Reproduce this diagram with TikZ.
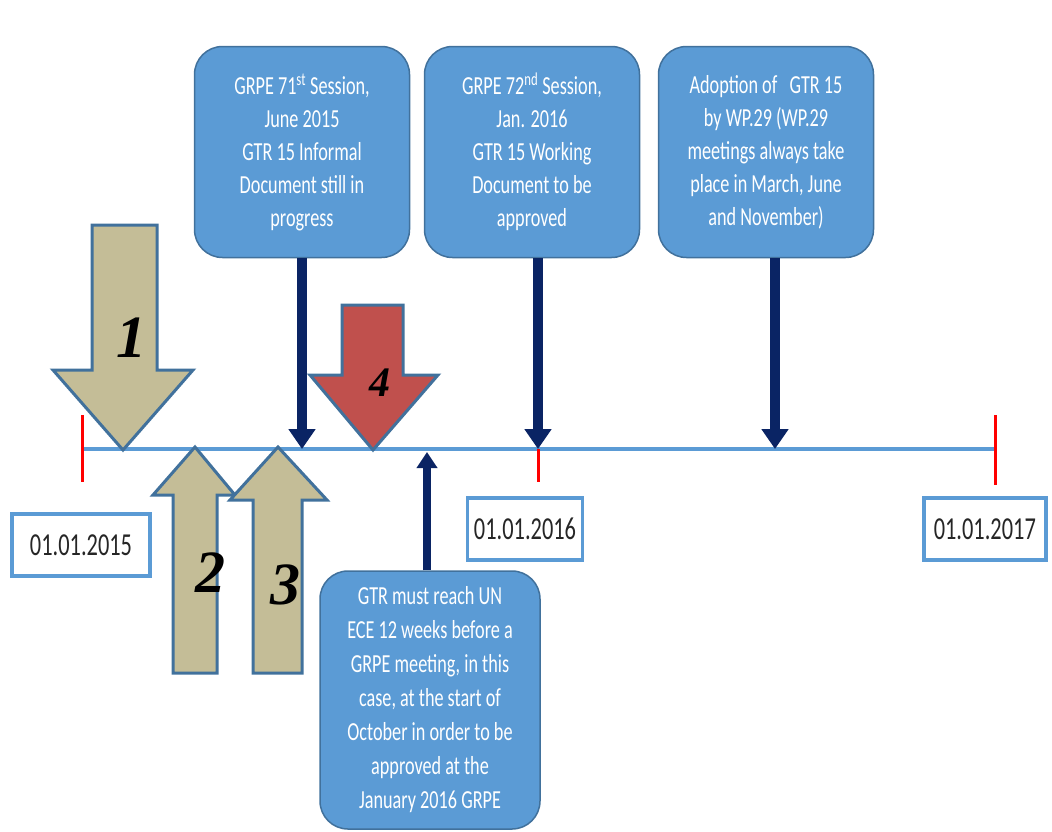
\documentclass[tikz,border=0pt]{standalone}
\usepackage{fontspec}
\setmainfont{Carlito}[FakeStretch=0.7]
\newfontfamily\numfont{Liberation Serif}
\usetikzlibrary{arrows.meta,positioning}
\definecolor{boxblue}{RGB}{91,155,213}
\definecolor{boxedge}{RGB}{65,113,156}
\definecolor{navy}{RGB}{10,36,100}
\definecolor{sand}{RGB}{196,189,151}
\definecolor{brick}{RGB}{192,80,77}
\tikzstyle{pointer} = [navy, line width=10pt, -{Triangle[width=26pt,length=20pt]}]
\tikzstyle{upointer} = [navy, line width=8pt, -{Triangle[width=20pt,length=16pt]}]
\tikzset{
 b/.style
  = {rectangle, draw=boxedge, fill=boxblue, line width=1.5pt, rounded corners=28pt,
     text=white, align=center, font=\fontsize{26}{33}\selectfont,
     minimum width=215pt, minimum height=211pt, inner sep=0pt},
 d/.style
  = {rectangle, draw=boxblue, line width=3.5pt, fill=white, text=black!85,
     font=\fontsize{32}{34}\selectfont, minimum height=62pt, inner sep=0pt},
 ba/.style
  = {draw=boxedge, line width=3pt, line join=miter, fill=sand},
 num/.style
  = {font=\numfont\bfseries\itshape\fontsize{60}{60}\selectfont},
 tk/.style
  = {red, line width=3pt},
}

\begin{document}
\begin{tikzpicture}[x=1pt, y=-1pt]
\useasboundingbox (0,0) rectangle (1052,831);

% Time line
\coordinate (t0) at (82,449);
\coordinate (t1) at (538,449);
\coordinate (t2) at (995,449);
\coordinate (m3) at (775,449);
\coordinate (m4) at (427,449);
\draw[boxblue, line width=4pt] (t0) -- (t2);
\draw[tk] ([yshift=34pt]t0) -- ([yshift=-33pt]t0);
\draw[tk] (t1) -- ([yshift=-33pt]t1);
\draw[tk] ([yshift=34pt]t2) -- ([yshift=-36pt]t2);

% Dates
\node[d, minimum width=138pt] (y15) at (81,545) {01.01.2015};
\node[d, minimum width=115pt] (y16) at (525,529) {01.01.2016};
\node[d, anchor=west, inner xsep=10pt] (y17) at (922,529) {01.01.2017};

% Block arrows
\filldraw[ba] (92,225) -- (157,225) -- (157,370) -- (193,370) -- (123,450)
  -- (53,370) -- (92,370) -- cycle;
\filldraw[ba] (173,673) -- (217,673) -- (217,495) -- (235,495) -- (195,447)
  -- (153,495) -- (173,495) -- cycle;
\filldraw[ba] (253,673) -- (302,673) -- (302,500) -- (327,500) -- (278,447)
  -- (230,500) -- (253,500) -- cycle;
\filldraw[ba, fill=brick] (342,305) -- (403,305) -- (403,375) -- (438,375) -- (373,450)
  -- (310,375) -- (342,375) -- cycle;
\node[num] (n1) at (131,338) {1};
\node[num] (n2) at (210,573) {2};
\node[num] (n3) at (285,585) {3};
\node[num, font=\numfont\bfseries\itshape\fontsize{42}{42}\selectfont] (n4) at (380,383) {4};

% Sessions
\node[b] (g71) at (302,152) {GRPE 71\textsuperscript{st} Session,\\June 2015\\GTR 15 Informal\\Document still in\\progress};
\node[b] (g72) at (532,152) {GRPE 72\textsuperscript{nd} Session,\\Jan. 2016\\GTR 15 Working\\Document to be\\approved};
\node[b] (wp) at (766,152) {Adoption of\ \ \ GTR 15\\by WP.29 (WP.29\\meetings always take\\place in March, June\\and November)};
\node[b, minimum width=220pt, minimum height=258pt, font=\fontsize{26}{34}\selectfont] (gtr) at (430,700) {GTR must reach UN\\ECE 12 weeks before a\\GRPE meeting, in this\\case, at the start of\\October in order to be\\approved at the\\January 2016 GRPE};

% Pointers
\draw[pointer] (g71.south) -- (g71.south |- t0);
\draw[pointer] (t1 |- g72.south) -- (t1);
\draw[pointer] (m3 |- wp.south) -- (m3);
\draw[upointer] (m4 |- gtr.north) -- ([yshift=-3pt]m4);

\end{tikzpicture}
\end{document}
